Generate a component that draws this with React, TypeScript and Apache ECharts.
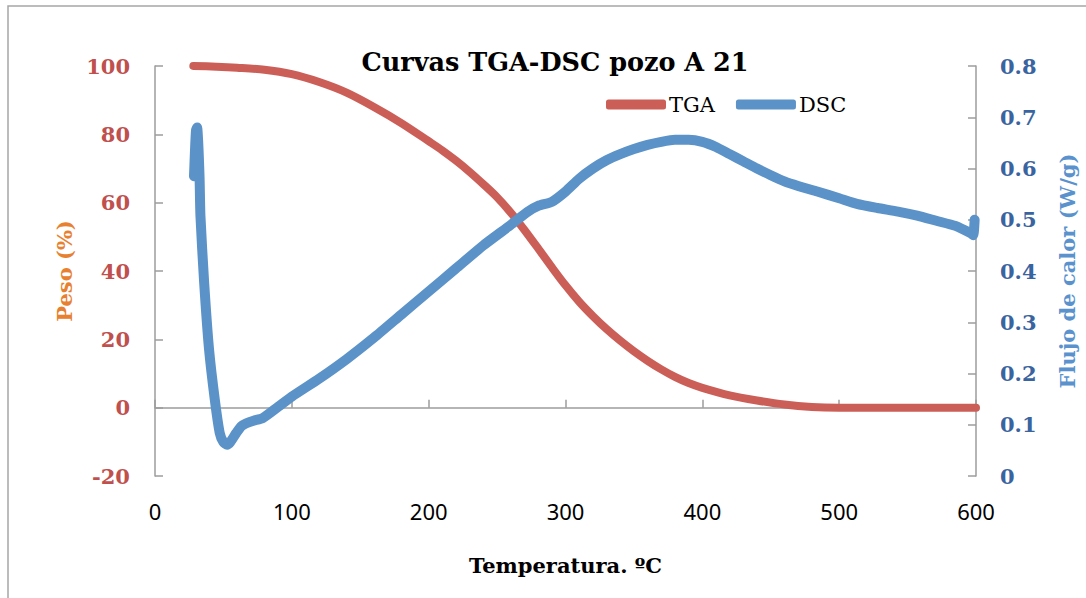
import React, { useEffect, useRef } from "react";
import * as echarts from "echarts";

const titleText = "Curvas TGA-DSC pozo A 21";
const xTitle = "Temperatura. ºC";
const leftTitle = "Peso (%)";
const rightTitle = "Flujo de calor (W/g)";

// TGA: [temperature °C, weight %]
const tgaData: [number, number][] = [
  [28, 100], [45, 99.8], [60, 99.5], [80, 98.9], [100, 97.6], [120, 95.3], [140, 92.2],
  [160, 88], [180, 83.3], [200, 78], [210, 75.3], [220, 72.3], [230, 69], [240, 65.4],
  [250, 61.6], [260, 57.1], [270, 52], [280, 46.6], [290, 41.1], [300, 35.8], [310, 31],
  [320, 26.8], [330, 23], [340, 19.6], [350, 16.5], [360, 13.7], [370, 11.2], [380, 9],
  [390, 7.2], [400, 5.8], [420, 3.6], [440, 2.1], [460, 0.9], [480, 0.2], [500, 0],
  [550, 0], [600, 0],
];

// DSC: [temperature °C, heat flow W/g]
const dscData: [number, number][] = [
  [28.5, 0.585], [29.3, 0.64], [30, 0.675], [30.8, 0.68], [31.5, 0.655], [32, 0.625],
  [32.6, 0.58], [33.2, 0.508], [35.9, 0.378], [39.5, 0.247], [43.7, 0.149],
  [47.3, 0.084], [50, 0.066], [52.7, 0.061], [55, 0.066], [59.4, 0.084], [63, 0.097],
  [66.8, 0.103], [72, 0.108], [78.7, 0.113], [90, 0.135], [100, 0.155], [120, 0.19],
  [140, 0.228], [160, 0.27], [180, 0.315], [200, 0.36], [220, 0.405], [240, 0.45],
  [260, 0.49], [272, 0.515], [280, 0.527], [290, 0.535], [300, 0.555], [310, 0.58],
  [320, 0.6], [330, 0.616], [340, 0.628], [350, 0.638], [360, 0.646], [370, 0.652],
  [380, 0.656], [390, 0.656], [400, 0.652], [410, 0.642], [420, 0.628], [430, 0.614],
  [440, 0.6], [450, 0.587], [460, 0.575], [470, 0.566], [484, 0.555], [500, 0.542],
  [513, 0.531], [528, 0.523], [543, 0.516], [557, 0.508], [571, 0.498], [585, 0.488],
  [596, 0.474], [598, 0.47], [599, 0.5],
];

const RED = "#CB5F58";
const BLUE = "#5B92C8";
const SERIF = "'DejaVu Serif', serif";

export default function App() {
  const ref = useRef<HTMLDivElement>(null);
  useEffect(() => {
    document.body.style.margin = "0";
    const chart = echarts.init(ref.current!, null, { renderer: "svg" });
    const axisLine = { show: true, lineStyle: { color: "#9C9C9C", width: 1.5 } };
    const axisTick = { show: true, inside: true, length: 8, lineStyle: { color: "#9C9C9C", width: 1.5 } };
    chart.setOption({
      animation: false,
      backgroundColor: "#fff",
      title: {
        text: titleText,
        left: 550,
        textAlign: "center",
        top: 44,
        textStyle: { fontFamily: SERIF, fontWeight: "bold", fontSize: 25.5, color: "#000" },
      },
      legend: {
        left: 606,
        top: 94,
        padding: 0,
        itemWidth: 60,
        itemHeight: 10,
        itemGap: 21,
        icon: "roundRect",
        textStyle: { fontFamily: SERIF, fontSize: 21, color: "#000", padding: [0, 0, 0, -2] },
        data: ["TGA", "DSC"],
      },
      grid: { left: 155, right: 107, top: 66, bottom: 122 },
      xAxis: {
        type: "value",
        min: 0,
        max: 600,
        interval: 100,
        axisLine,
        axisTick,
        splitLine: { show: false },
        axisLabel: { fontFamily: "'Noto Sans', sans-serif", fontSize: 22, color: "#000", margin: 24 },
        name: xTitle,
        nameLocation: "middle",
        nameGap: 79,
        nameTextStyle: { fontFamily: SERIF, fontWeight: "bold", fontSize: 21, color: "#000" },
      },
      yAxis: [
        {
          type: "value",
          min: -20,
          max: 100,
          interval: 20,
          axisLine,
          axisTick,
          splitLine: { show: false },
          axisLabel: { fontFamily: SERIF, fontWeight: "bold", fontSize: 21, color: "#C0504D", margin: 25 },
          name: leftTitle,
          nameLocation: "middle",
          nameGap: 80,
          nameTextStyle: { fontFamily: SERIF, fontWeight: "bold", fontSize: 21, color: "#E8812F" },
        },
        {
          type: "value",
          min: 0,
          max: 0.8,
          interval: 0.1,
          position: "right",
          axisLine,
          axisTick,
          splitLine: { show: false },
          axisLabel: { fontFamily: SERIF, fontWeight: "bold", fontSize: 21, color: "#3A64A0", margin: 24 },
          name: rightTitle,
          nameLocation: "middle",
          nameGap: 81,
          nameTextStyle: { fontFamily: SERIF, fontWeight: "bold", fontSize: 21, color: "#5A92CE" },
        },
      ],
      graphic: [
        {
          type: "rect",
          shape: { x: 8, y: 6, width: 1100, height: 620 },
          style: { fill: "none", stroke: "#A6A6A6", lineWidth: 1.5 },
          silent: true,
        },
      ],
      series: [
        {
          name: "TGA",
          type: "line",
          data: tgaData,
          yAxisIndex: 0,
          showSymbol: false,
          smooth: 0.3,
          color: RED,
          lineStyle: { color: RED, width: 8, cap: "round", join: "round" },
          itemStyle: { color: RED },
        },
        {
          name: "DSC",
          type: "line",
          data: dscData,
          yAxisIndex: 1,
          showSymbol: false,
          smooth: 0.2,
          color: BLUE,
          lineStyle: { color: BLUE, width: 10, cap: "round", join: "round" },
          itemStyle: { color: BLUE },
        },
      ],
    });
    return () => chart.dispose();
  }, []);
  return <div ref={ref} style={{ width: 1086, height: 598 }} />;
}
